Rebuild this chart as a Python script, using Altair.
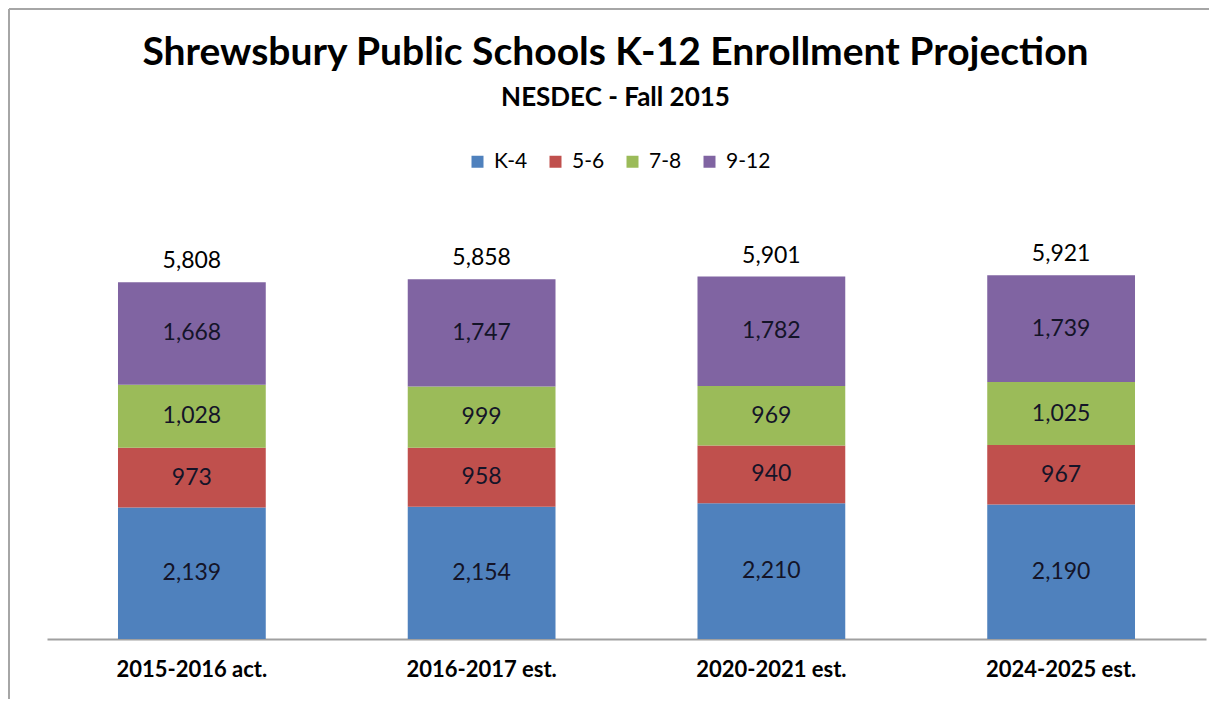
import altair as alt
import pandas as pd

years = ["2015-2016 act.", "2016-2017 est.", "2020-2021 est.", "2024-2025 est."]
groups = ["K-4", "5-6", "7-8", "9-12"]
k4 = [2139, 2154, 2210, 2190]
g56 = [973, 958, 940, 967]
g78 = [1028, 999, 969, 1025]
g912 = [1668, 1747, 1782, 1739]
totals = [5808, 5858, 5901, 5921]
colors = ["#4F81BD", "#C0504D", "#9BBB59", "#8064A2"]

rows = []
series = [k4, g56, g78, g912]
for i, y in enumerate(years):
    base = 0
    for j, g in enumerate(groups):
        v = series[j][i]
        rows.append({"year": y, "group": g, "order": j, "value": v,
                     "start": base, "end": base + v, "mid": base + v / 2})
        base += v
df = pd.DataFrame(rows)
tot = pd.DataFrame({"year": years, "total": totals})

FONT = "Lato"

x = alt.X("year:N", sort=years, title=None,
          scale=alt.Scale(paddingInner=0.49, paddingOuter=0.245),
          axis=alt.Axis(labelAngle=0, labelFont=FONT, labelFontSize=22,
                        labelFontWeight="bold", labelColor="#000000",
                        labelPadding=20, ticks=False, domainColor="#A0A0A0",
                        domainWidth=2))
yscale = alt.Scale(domain=[0, 7000], nice=False)

bars = alt.Chart(df).mark_bar().encode(
    x=x,
    y=alt.Y("start:Q", scale=yscale, axis=None),
    y2="end:Q",
    color=alt.Color("group:N", sort=groups,
                    scale=alt.Scale(domain=groups, range=colors),
                    legend=alt.Legend(title=None, orient="none", direction="horizontal",
                                      legendX=420, legendY=-58,
                                      symbolType="square", symbolSize=144,
                                      symbolStrokeWidth=0, labelFont=FONT,
                                      labelFontSize=21, labelColor="#000000",
                                      labelOffset=6, columnPadding=17,
                                      symbolOpacity=1)),
)

seglabels = alt.Chart(df).mark_text(font=FONT, fontSize=23, color="#141428").encode(
    x=alt.X("year:N", sort=years),
    y=alt.Y("mid:Q", scale=yscale),
    text=alt.Text("value:Q", format=","),
)

totlabels = alt.Chart(tot).mark_text(font=FONT, fontSize=23, color="#000000",
                                     baseline="alphabetic", dy=-14).encode(
    x=alt.X("year:N", sort=years),
    y=alt.Y("total:Q", scale=yscale),
    text=alt.Text("total:Q", format=","),
)

frame_df = pd.DataFrame({"k": [0]})
left_rule = alt.Chart(frame_df).mark_rule(color="#A6A6A6", strokeWidth=2).encode(
    x=alt.value(-38), y=alt.value(-200), y2=alt.value(520))
top_rule = alt.Chart(frame_df).mark_rule(color="#A6A6A6", strokeWidth=2).encode(
    x=alt.value(-38), x2=alt.value(1162), y=alt.value(-200))

chart = alt.layer(bars, seglabels, totlabels, left_rule, top_rule).properties(
    width=1159, height=430,
    title=alt.Title("Shrewsbury Public Schools K-12 Enrollment Projection",
                    subtitle="NESDEC - Fall 2015", font=FONT, fontSize=39,
                    fontWeight="bold", color="#000000", subtitleFont=FONT,
                    subtitleFontSize=26, subtitleFontWeight="bold",
                    subtitleColor="#000000", subtitlePadding=12,
                    anchor="middle", frame="group", offset=-103, dx=-11),
    autosize=alt.AutoSizeParams(type="none"),
    padding={"left": 39, "top": 201, "right": 3, "bottom": 60},
).configure(background="#FFFFFF").configure_view(stroke="transparent", strokeWidth=0)

chart.save("out.html", embed_options={"renderer": "svg", "actions": False})
